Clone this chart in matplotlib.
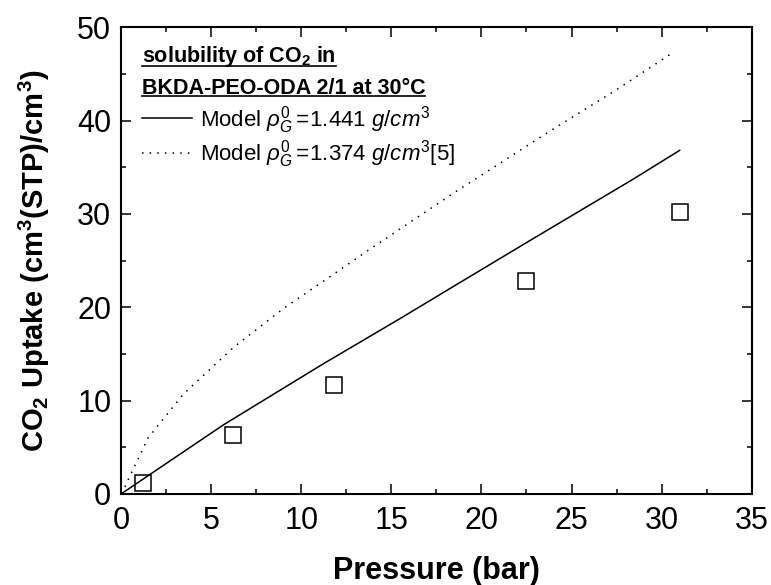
import matplotlib
matplotlib.use("Agg")
import matplotlib.pyplot as plt
from matplotlib.lines import Line2D
from matplotlib.ticker import MultipleLocator

plt.rcParams['font.family'] = ['Liberation Sans', 'DejaVu Sans']
plt.rcParams['mathtext.fontset'] = 'custom'
plt.rcParams['mathtext.rm'] = 'Liberation Sans'
plt.rcParams['mathtext.it'] = 'Liberation Sans:italic'
plt.rcParams['mathtext.bf'] = 'Liberation Sans:bold'

## measured CO2 uptake
p_exp = [1.2, 6.2, 11.8, 22.5, 31.0]
c_exp = [1.2, 6.3, 11.7, 22.8, 30.2]

## model, rho = 1.441
p_m1 = [0.0, 5.68, 11.23, 15.48, 18.25, 22.87, 28.32, 31.0]
c_m1 = [0.0, 7.4, 13.95, 18.78, 22.0, 27.35, 33.6, 36.8]

## model, rho = 1.374 [5]
p_m2 = [0.05, 0.33, 1.5, 3.46, 6.24, 9.0, 11.69, 13.72, 18.43, 23.97, 27.5, 30.72]
c_m2 = [0.0, 1.27, 6.0, 10.7, 15.7, 19.85, 23.4, 26.1, 32.2, 39.07, 43.3, 47.4]

fig = plt.figure(figsize=(7.71, 5.85), dpi=100)
ax = fig.add_axes([0.157, 0.1556, 0.818, 0.798])

ax.plot(p_m1, c_m1, color='black', lw=1.1, clip_on=False)
ax.plot(p_m2, c_m2, color='black', lw=1.1, linestyle=(0, (1, 4)), clip_on=False)
ax.plot(p_exp, c_exp, linestyle='none', marker='s', markersize=11,
        markerfacecolor='none', markeredgecolor='black', markeredgewidth=1.1,
        clip_on=False)

ax.set_xlim(0, 35)
ax.set_ylim(0, 50)
ax.xaxis.set_major_locator(MultipleLocator(5))
ax.xaxis.set_minor_locator(MultipleLocator(2.5))
ax.yaxis.set_major_locator(MultipleLocator(10))
ax.yaxis.set_minor_locator(MultipleLocator(5))
ax.tick_params(which='both', direction='in', top=True, right=True, width=1.1,
               labelsize=22)
ax.tick_params(which='major', length=7)
ax.tick_params(which='minor', length=3.5)
ax.tick_params(axis='x', pad=9)
ax.tick_params(axis='y', pad=7)
for s in ax.spines.values():
    s.set_linewidth(1.5)

ax.set_xlabel('Pressure (bar)', fontsize=22, fontweight='bold', labelpad=14)
ax.set_ylabel(r'CO$_\mathbf{2}$ Uptake (cm$^\mathbf{3}$(STP)/cm$^\mathbf{3}$)',
              fontsize=21, fontweight='bold', labelpad=18)

# legend block
t1 = ax.text(0.033, 0.937, r'solubility of CO$_\mathbf{2}$ in', transform=ax.transAxes,
             fontsize=15.5, fontweight='bold', va='center', ha='left')
t2 = ax.text(0.033, 0.868, 'BKDA-PEO-ODA 2/1 at 30°C', transform=ax.transAxes,
             fontsize=15.5, fontweight='bold', va='center', ha='left')

handles = [Line2D([], [], color='black', lw=1.1),
           Line2D([], [], color='black', lw=1.1, linestyle=(0, (1, 4)))]
labels = [r'Model $\rho^{0}_{G}\,\!\mathit{=}\!\mathit{1.441\ g/cm^{3}}$',
          r'Model $\rho^{0}_{G}\,\!\mathit{=}\!\mathit{1.374\ g/cm^{3}}$[5]']
ax.legend(handles, labels, loc='upper left', bbox_to_anchor=(0.0333, 0.836),
          frameon=False, fontsize=16, handlelength=2.25, handletextpad=0.36,
          labelspacing=0.13, borderaxespad=0, borderpad=0)

# underline the two heading lines
fig.canvas.draw()
r = fig.canvas.get_renderer()
inv = fig.transFigure.inverted()
for t in (t1, t2):
    bb = t.get_window_extent(renderer=r)
    x0, y0 = inv.transform((bb.x0, bb.y0 + 3))
    x1, _ = inv.transform((bb.x1, bb.y0 + 3))
    fig.add_artist(Line2D([x0, x1], [y0, y0], color='black', lw=1.2))

fig.savefig('out.png', dpi=100)
